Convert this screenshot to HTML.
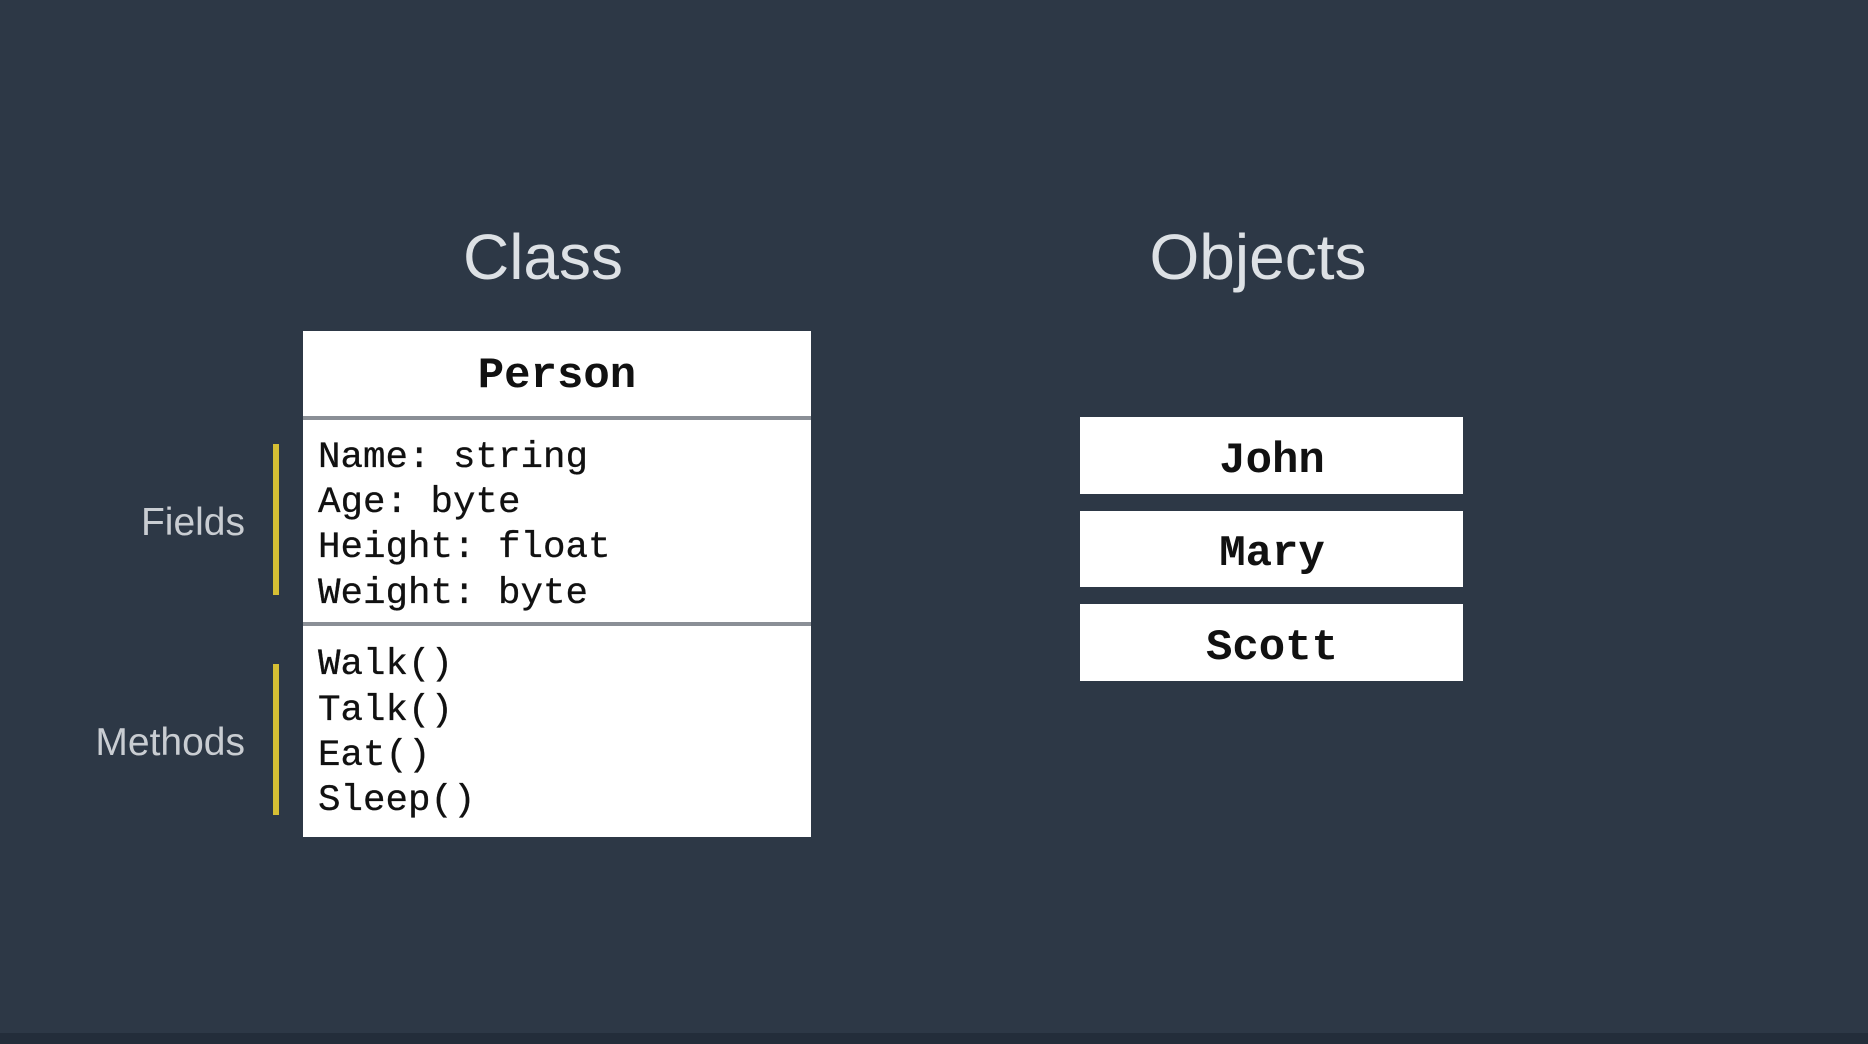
<!DOCTYPE html>
<html><head><meta charset="utf-8"><style>
html,body{margin:0;padding:0;background:#2d3846;}
svg{display:block;}
</style></head><body>
<svg width="1868" height="1044" viewBox="0 0 1868 1044" xmlns="http://www.w3.org/2000/svg">
<rect x="0" y="0" width="1868" height="1044" fill="#2d3846"/>
<rect x="0" y="1033" width="1868" height="11" fill="#232d3a"/>
<g font-family="Liberation Sans, sans-serif" fill="#dde1e5">
<text x="543" y="279" font-size="64" text-anchor="middle">Class</text>
<text x="1258" y="279" font-size="64" text-anchor="middle">Objects</text>
</g>
<g font-family="Liberation Sans, sans-serif" fill="#c9cdd2" font-size="39" text-anchor="end">
<text x="245" y="535">Fields</text>
<text x="245" y="755">Methods</text>
</g>
<rect x="273" y="444" width="6" height="151" fill="#d6bf34"/>
<rect x="273" y="664" width="6" height="151" fill="#d6bf34"/>
<rect x="303" y="331" width="508" height="506" fill="#ffffff"/>
<rect x="303" y="416" width="508" height="4" fill="#8a8f96"/>
<rect x="303" y="622" width="508" height="4" fill="#8a8f96"/>
<g font-family="Liberation Mono, monospace" fill="#111">
<text x="557" y="387" font-size="44" font-weight="bold" text-anchor="middle">Person</text>
<g font-size="37.5" stroke="#111" stroke-width="0.3">
<text x="318" y="467">Name: string</text>
<text x="318" y="512">Age: byte</text>
<text x="318" y="557">Height: float</text>
<text x="318" y="603">Weight: byte</text>
<text x="318" y="674">Walk()</text>
<text x="318" y="720">Talk()</text>
<text x="318" y="765">Eat()</text>
<text x="318" y="810">Sleep()</text>
</g>
</g>
<rect x="1080" y="417" width="383" height="77" fill="#ffffff"/>
<rect x="1080" y="511" width="383" height="76" fill="#ffffff"/>
<rect x="1080" y="604" width="383" height="77" fill="#ffffff"/>
<g font-family="Liberation Mono, monospace" fill="#111" font-size="44" font-weight="bold" text-anchor="middle">
<text x="1272" y="472">John</text>
<text x="1272" y="565">Mary</text>
<text x="1272" y="659">Scott</text>
</g>
</svg>
</body></html>
